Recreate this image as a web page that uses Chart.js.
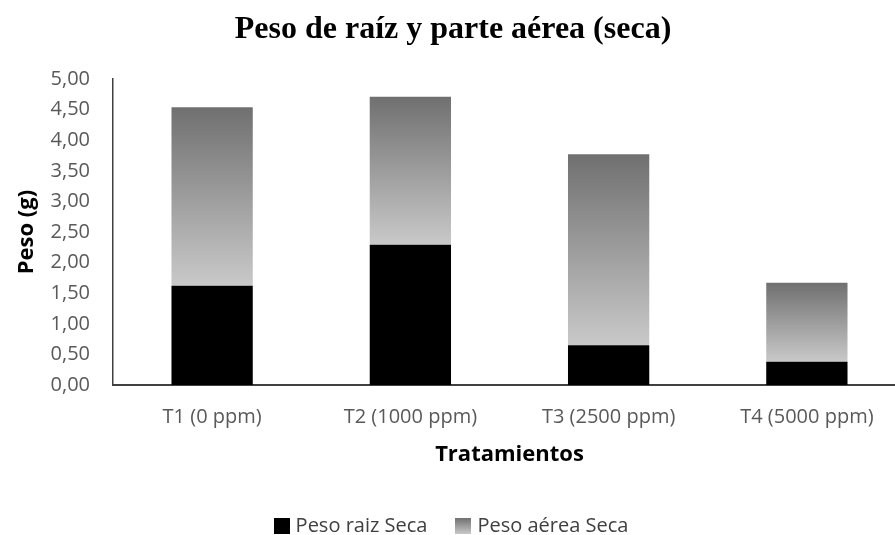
<!DOCTYPE html>
<html lang="es">
<head>
<meta charset="UTF-8">
<title>Peso de raíz y parte aérea (seca)</title>
<script src="https://cdn.jsdelivr.net/npm/chart.js"></script>
<style>
  html, body { margin: 0; padding: 0; background: #fff; overflow: hidden; }
  /* a bit larger than the window so the plot runs off the right edge like the original */
  #wrap { position: relative; width: 908px; height: 546px; }
</style>
</head>
<body>
<div id="wrap"><canvas id="chart"></canvas></div>
<script>
// data
const tratamientos = ['T1 (0 ppm)', 'T2 (1000 ppm)', 'T3 (2500 ppm)', 'T4 (5000 ppm)'];
const pesoRaizSeca = [1.62, 2.29, 0.65, 0.38];
const pesoAereaSeca = [2.92, 2.42, 3.12, 1.29];

const tickFont = { family: "'Open Sans', Arial, sans-serif", size: 20 };
const axisTitleFont = { family: "'Open Sans', Arial, sans-serif", size: 22, weight: 'bold' };

const DARK = '#707070';
const LIGHT = '#c9c9c9';

// grey gradient per bar, dark at top, light at bottom of its own segment
function aereaFill(ctx) {
  const chart = ctx.chart;
  const y = chart.scales.y;
  if (!y || ctx.dataIndex === undefined) return '#999';
  const base = pesoRaizSeca[ctx.dataIndex];
  const top = y.getPixelForValue(base + pesoAereaSeca[ctx.dataIndex]);
  const bottom = y.getPixelForValue(base);
  if (!isFinite(top) || !isFinite(bottom) || top === bottom) return '#999';
  const g = chart.ctx.createLinearGradient(0, top, 0, bottom);
  g.addColorStop(0, DARK);
  g.addColorStop(1, LIGHT);
  return g;
}

// small swatches for the legend
function swatch(fill) {
  const c = document.createElement('canvas');
  c.width = 16; c.height = 16;
  const x = c.getContext('2d');
  if (fill === 'grad') {
    const g = x.createLinearGradient(0, 0, 0, 16);
    g.addColorStop(0, DARK);
    g.addColorStop(1, LIGHT);
    x.fillStyle = g;
  } else {
    x.fillStyle = fill;
  }
  x.fillRect(0, 0, 16, 16);
  return c;
}
const swatches = [swatch('#000000'), swatch('grad')];

new Chart(document.getElementById('chart'), {
  type: 'bar',
  data: {
    labels: tratamientos,
    datasets: [
      { label: 'Peso raiz Seca', data: pesoRaizSeca, backgroundColor: '#000000', borderWidth: 0 },
      { label: 'Peso aérea Seca', data: pesoAereaSeca, backgroundColor: aereaFill, borderWidth: 0 }
    ]
  },
  options: {
    responsive: true,
    maintainAspectRatio: false,
    animation: false,
    barPercentage: 0.41,
    categoryPercentage: 1,
    layout: { padding: { left: 0, right: 2, top: 0, bottom: 0 } },
    plugins: {
      title: {
        display: true,
        text: 'Peso de raíz y parte aérea (seca)',
        color: '#000',
        font: { family: "'Liberation Serif', 'Times New Roman', serif", size: 32, weight: 'bold' },
        padding: { top: 11, bottom: 29.6 }
      },
      legend: {
        position: 'bottom',
        labels: {
          color: '#404040',
          font: { family: "'Open Sans', Arial, sans-serif", size: 20 },
          usePointStyle: true,
          boxWidth: 8,
          boxHeight: 16,
          padding: 32,
          generateLabels(chart) {
            const items = Chart.defaults.plugins.legend.labels.generateLabels(chart);
            items.forEach((it, i) => {
              it.pointStyle = swatches[i];
              it.lineWidth = 0;
              it.strokeStyle = 'transparent';
            });
            return items;
          }
        }
      },
      tooltip: { enabled: false }
    },
    scales: {
      x: {
        stacked: true,
        grid: { display: false },
        border: { display: true, color: '#404040', width: 2 },
        ticks: { color: '#595959', font: tickFont, padding: 12 },
        title: { display: true, text: 'Tratamientos', color: '#000', font: axisTitleFont, padding: { top: 10, bottom: 15.8 } },
        afterFit(scale) { scale.height = 99; }
      },
      y: {
        stacked: true,
        min: 0,
        max: 5,
        grid: { display: false },
        border: { display: true, color: '#404040', width: 1.5 },
        ticks: {
          stepSize: 0.5,
          color: '#595959',
          font: tickFont,
          padding: 15,
          callback: v => v.toFixed(2).replace('.', ',')
        },
        title: { display: true, text: 'Peso (g)', color: '#000', font: axisTitleFont, padding: { top: 14, bottom: 0 } },
        afterFit(scale) { scale.width = 113; }
      }
    }
  }
});
</script>
</body>
</html>
